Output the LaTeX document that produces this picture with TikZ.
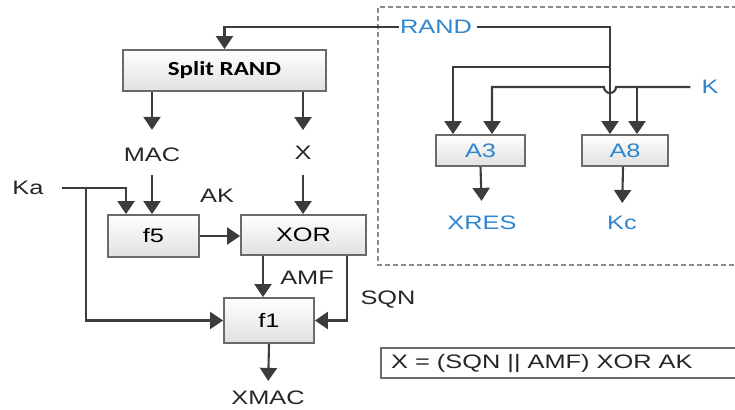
\documentclass[tikz,border=0pt]{standalone}
\usepackage{fontspec}
\setmainfont{Liberation Sans}[FakeStretch=1.3]
\newfontfamily\splitfont{Carlito}[FakeStretch=1.25]
\usetikzlibrary{arrows.meta}
\definecolor{lineGray}{HTML}{3C3C3C}
\definecolor{boxGray}{HTML}{6A6A6A}
\definecolor{dashGray}{HTML}{8A8A8A}
\definecolor{txtBlue}{HTML}{2E86D0}
\tikzset{
  conn/.style={draw=lineGray, line width=2.1pt},
  arr/.style={conn, -{Triangle[width=17pt,length=13pt]}},
  blk/.style={draw=boxGray, line width=1.8pt, top color=white, bottom color=gray!24, inner sep=0pt},
  lbl/.style={inner sep=1pt, font=\fontsize{19.5}{21}\selectfont, text=black!85},
  blbl/.style={lbl, text=txtBlue}
}
\begin{document}
\begin{tikzpicture}[x=1pt,y=-1pt]
\useasboundingbox (0,0) rectangle (735,409);
% dashed frame
\draw[dashGray, line width=2.6pt, dash pattern=on 5pt off 3pt] (745,7) -- (378,7) -- (378,265) -- (745,265);

% blocks
\node[blk, minimum width=203pt, minimum height=41pt] (split) at (224.5,70.5) {\splitfont\bfseries\fontsize{20}{22}\selectfont Split RAND};
\node[blk, minimum width=91pt, minimum height=42pt, font=\fontsize{19.5}{21}\selectfont] (f5) at (153.5,236) {f5};
\node[blk, minimum width=125pt, minimum height=40pt, font=\fontsize{19.5}{21}\selectfont] (xor) at (303.5,235) {XOR};
\node[blk, minimum width=90pt, minimum height=45pt, font=\fontsize{19.5}{21}\selectfont] (f1) at (269,320.5) {f1};
\node[blk, minimum width=89pt, minimum height=31pt, font=\fontsize{19.5}{21}\selectfont, text=txtBlue] (a3) at (480.5,150.5) {A3};
\node[blk, minimum width=86pt, minimum height=31pt, font=\fontsize{19.5}{21}\selectfont, text=txtBlue] (a8) at (625,150.5) {A8};
\node[draw=boxGray, line width=2pt, fill=white, minimum width=362pt, minimum height=30pt, anchor=west, inner sep=0pt] (fbox) at (380,363) {};

% labels
\node[lbl] (mac) at (152,155) {MAC};
\node[lbl] (x) at (303,153) {X};
\node[lbl] (ka) at (28,188) {Ka};
\node[lbl] (ak) at (217,196) {AK};
\node[lbl] (amf) at (307,278) {AMF};
\node[lbl] (sqn) at (388,300) {SQN};
\node[lbl] (xmac) at (268,398) {XMAC};
\node[lbl, anchor=west] (formula) at (390,363) {X = (SQN || AMF) XOR AK};
\node[blbl] (rand) at (436,27) {RAND};
\node[blbl] (k) at (710,87) {K};
\node[blbl] (xres) at (482,223) {XRES};
\node[blbl] (kc) at (622,223) {Kc};

% RAND distribution
\draw[arr] (rand.west) -| (split.north);
\draw[arr, shorten <=4pt] (rand.east) -| ([xshift=-15pt]a8.north);
\coordinate (br) at (610,67);
\draw[arr] (br) -| ([xshift=-27.5pt]a3.north);

% K distribution with jump
\coordinate (kj) at (637,87);
\draw[arr, shorten <=10pt] (k.west) -- (616,87) arc[start angle=0, end angle=-180, radius=6pt] -- (492,87) -- ([xshift=11.5pt]a3.north);
\draw[arr] (kj) -- ([xshift=12pt]a8.north);

% A3 / A8 outputs
\draw[arr, shorten >=14pt] (a3.south) -- (xres.north);
\draw[arr, shorten >=12pt] ([xshift=-2pt]a8.south) -- (kc.north);

% Split RAND outputs
\draw[arr, shorten >=17pt] (split.south -| mac) -- (mac.north);
\draw[arr, shorten >=15pt] (split.south -| x) -- (x.north);
\draw[arr, shorten <=12pt] (mac.south) -- (mac.south |- f5.north);
\draw[arr, shorten <=14pt] (x.south) -- (x.south |- xor.north);

% Ka
\draw[arr, shorten <=17pt] (ka.east) -| ([xshift=-27.5pt]f5.north);
\coordinate (kb) at (86,188);
\draw[arr] (kb) |- (f1.west);

% f5 -> XOR
\draw[arr] (f5.east) -- (xor.west |- f5.east);

% XOR -> f1
\draw[arr] ([xshift=-40.5pt]xor.south) -- ([xshift=-6pt]f1.north);
\draw[arr] ([xshift=43.5pt]xor.south) |- (f1.east);

% f1 -> XMAC
\draw[arr, shorten >=9pt] (f1.south) -- (xmac.north);
\end{tikzpicture}
\end{document}
